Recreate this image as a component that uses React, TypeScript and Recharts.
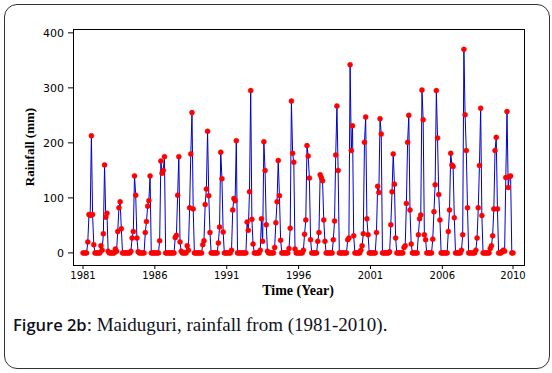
import React from 'react';
import { LineChart, Line, XAxis, YAxis } from 'recharts';

// monthly rainfall (mm), Jan..Dec, one row per year
const years = [
  1981, 1982, 1983, 1984, 1985, 1986, 1987, 1988, 1989, 1990,
  1991, 1992, 1993, 1994, 1995, 1996, 1997, 1998, 1999, 2000,
  2001, 2002, 2003, 2004, 2005, 2006, 2007, 2008, 2009, 2010,
];

const rain1981to1990 = [
  [0, 0, 0, 0, 20, 70, 68, 213, 70, 15, 0, 0],
  [0, 0, 0, 13, 5, 35, 160, 65, 72, 3, 0, 0],
  [0, 0, 0, 7, 3, 39, 82, 93, 44, 0, 0, 0],
  [0, 0, 0, 0, 3, 27, 39, 140, 105, 27, 2, 0],
  [0, 0, 0, 0, 37, 57, 85, 95, 140, 0, 0, 0],
  [0, 0, 0, 0, 22, 167, 145, 150, 175, 0, 0, 0],
  [0, 0, 0, 0, 0, 28, 32, 105, 175, 20, 3, 0],
  [0, 0, 0, 13, 5, 82, 180, 255, 80, 0, 0, 0],
  [0, 0, 0, 0, 15, 22, 88, 116, 221, 104, 37, 0],
  [0, 0, 0, 0, 0, 18, 47, 183, 135, 38, 0, 0],
];

const rain1991to2000 = [
  [0, 0, 0, 0, 5, 78, 99, 95, 204, 0, 0, 0],
  [0, 0, 0, 0, 0, 56, 41, 111, 295, 61, 16, 0],
  [0, 0, 0, 0, 5, 62, 21, 202, 150, 51, 3, 0],
  [0, 0, 0, 0, 10, 55, 93, 168, 104, 23, 0, 0],
  [0, 0, 0, 0, 8, 45, 276, 181, 165, 7, 0, 0],
  [0, 0, 0, 0, 5, 34, 60, 195, 176, 136, 24, 0],
  [0, 0, 0, 0, 21, 37, 142, 137, 131, 60, 21, 0],
  [0, 0, 0, 0, 0, 24, 58, 178, 267, 150, 0, 0],
  [0, 0, 0, 0, 0, 24, 27, 342, 186, 231, 31, 0],
  [0, 0, 0, 0, 5, 13, 35, 201, 247, 62, 33, 0],
];

const rain2001to2010 = [
  [0, 0, 0, 0, 0, 37, 121, 110, 244, 216, 0, 0],
  [0, 0, 0, 0, 2, 51, 111, 180, 125, 27, 0, 0],
  [0, 0, 0, 0, 10, 13, 90, 201, 250, 78, 16, 0],
  [0, 0, 0, 0, 33, 62, 69, 296, 242, 33, 24, 0],
  [0, 0, 0, 0, 25, 75, 124, 295, 209, 106, 60, 0],
  [0, 0, 0, 0, 0, 39, 78, 181, 160, 157, 64, 0],
  [0, 0, 0, 0, 5, 33, 370, 251, 186, 82, 0, 0],
  [0, 0, 0, 0, 5, 27, 82, 159, 263, 68, 0, 0],
  [0, 0, 0, 0, 8, 13, 31, 80, 186, 210, 80, 0],
  [0, 0, 3, 5, 3, 137, 257, 119, 139, 140, 0, 0],
];

const xTickIdx = [1, 61, 121, 181, 241, 301, 360];
const xTickLabels = ['1981', '1986', '1991', '1996', '2001', '2006', '2010'];
const yTicks = [0, 100, 200, 300, 400];

const allRows = [...rain1981to1990, ...rain1991to2000, ...rain2001to2010];
const data = allRows.flatMap((row, yi) =>
  row.map((v, m) => ({ idx: yi * 12 + m + 1, year: years[yi], month: m + 1, rain: v }))
);

const tickFont = { fill: '#000', fontSize: 10, fontFamily: '"DejaVu Sans", Verdana, sans-serif' };

export default function App() {
  return (
    <div style={{ position: 'fixed', left: 0, top: 0, width: 552, height: 373, background: '#fff', overflow: 'hidden' }}>
      {/* outer figure frame */}
      <div style={{
        position: 'absolute', left: 4, top: 4, width: 546, height: 365,
        border: '1.5px solid #333', borderRadius: 13, boxSizing: 'border-box',
      }} />

      <div style={{ position: 'absolute', left: 0, top: 0 }}>
        <LineChart width={552} height={300} data={data} margin={{ top: 29, right: 28, bottom: 0, left: 0 }}>
          <XAxis
            type="number"
            dataKey="idx"
            domain={[-7.35, 369.18]}
            allowDataOverflow
            ticks={xTickIdx}
            interval={0}
            tickFormatter={(v) => xTickLabels[xTickIdx.indexOf(v)]}
            axisLine={false}
            tickLine={{ stroke: '#000' }}
            tickSize={4}
            tickMargin={3}
            tick={tickFont}
            height={35}
          />
          <YAxis
            type="number"
            domain={[-22, 407]}
            allowDataOverflow
            ticks={yTicks}
            interval={0}
            axisLine={false}
            tickLine={{ stroke: '#000' }}
            tickSize={5}
            tickMargin={4}
            tick={{ ...tickFont, fontSize: 11 }}
            width={73}
          />
          <Line
            type="linear"
            dataKey="rain"
            stroke="#0000d0"
            strokeWidth={1}
            dot={{ r: 2.5, fill: '#ff0000', stroke: '#ff0000', strokeWidth: 0.5 }}
            isAnimationActive={false}
          />
        </LineChart>
      </div>

      {/* plot box */}
      <div style={{
        position: 'absolute', left: 73, top: 29, width: 452, height: 237,
        border: '1px solid #000', boxSizing: 'border-box', pointerEvents: 'none',
      }} />

      <div style={{
        position: 'absolute', left: 30, top: 147, transform: 'translate(-50%, -50%) rotate(-90deg)',
        whiteSpace: 'nowrap', fontFamily: '"Liberation Serif", "Times New Roman", serif',
        fontWeight: 'bold', fontSize: 13, color: '#000',
      }}>Rainfall (mm)</div>

      <div style={{
        position: 'absolute', left: 298, top: 291, transform: 'translate(-50%, -50%)',
        whiteSpace: 'nowrap', fontFamily: '"Liberation Serif", "Times New Roman", serif',
        fontWeight: 'bold', fontSize: 14, color: '#000',
      }}>Time (Year)</div>

      <div style={{
        position: 'absolute', left: 13, top: 313, whiteSpace: 'nowrap', fontSize: 19,
        fontFamily: '"Liberation Serif", "Times New Roman", serif', color: '#111122',
      }}>
        <span style={{ fontFamily: '"Open Sans", "Noto Sans", sans-serif', fontWeight: 600, fontSize: 16.5 }}>Figure 2b</span>
        : Maiduguri, rainfall from (1981-2010).
      </div>
    </div>
  );
}
